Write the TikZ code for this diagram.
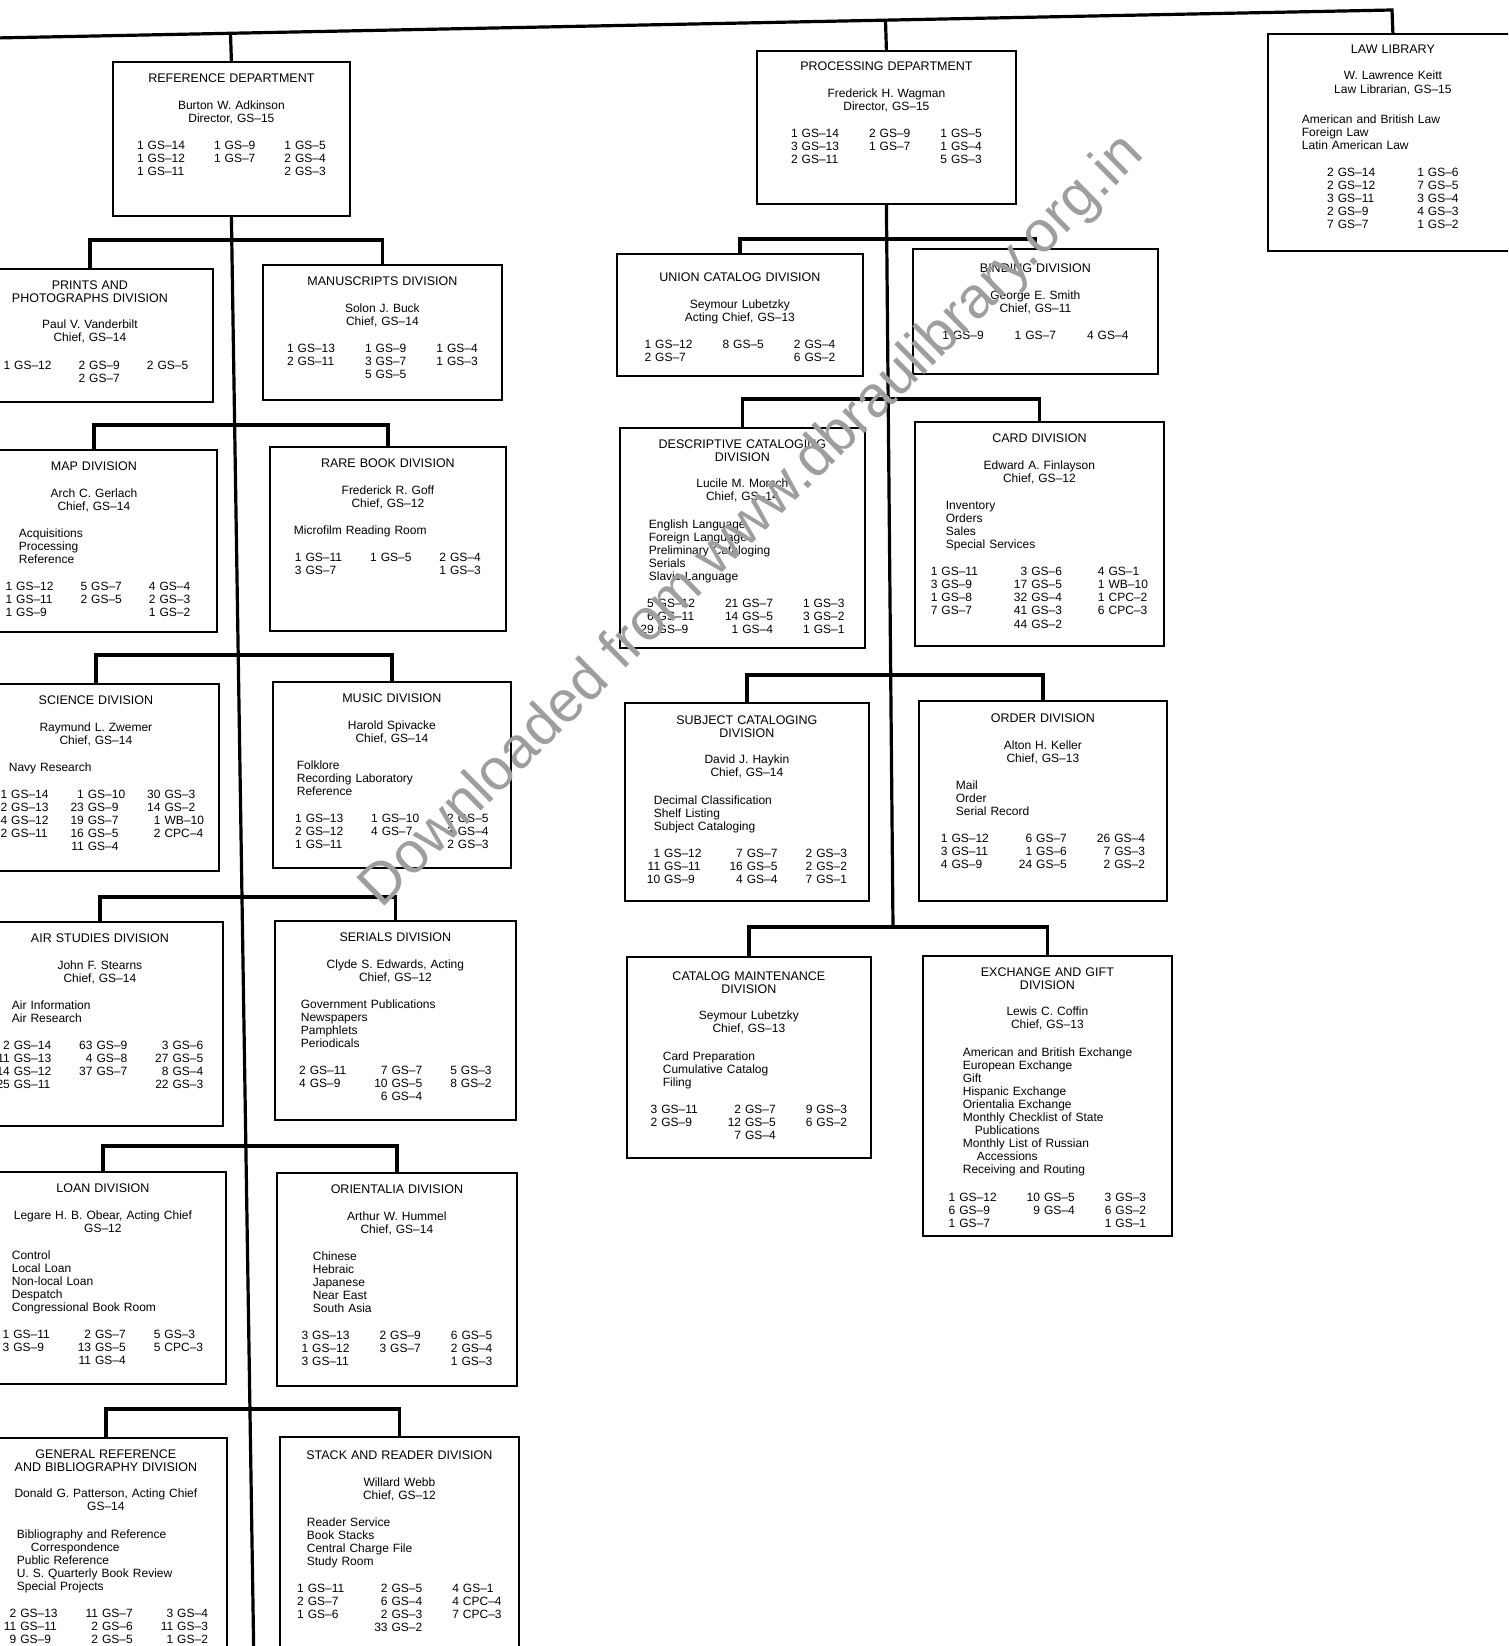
\documentclass[tikz,border=0pt]{standalone}
\usepackage{fontspec}
\setmainfont{Liberation Sans}
\usetikzlibrary{calc}
\newcommand\bfnt{\fontsize{12}{13.1}\selectfont}
\newcommand\tfnt{\fontsize{12.5}{12.8}\selectfont}
\newcommand\oTitle[1]{{\centering\tfnt #1\par}\vspace{13pt}}
\newcommand\oWho[1]{{\centering #1\par}\vspace{14pt}}
\newcommand\oList[2]{{\leftskip=#1pt\relax #2\par}\vspace{14pt}}
\newcommand\oGrades[3][0]{{\centering\hspace*{#1pt}\begin{tabular}[t]{@{}r@{\ }l@{\hspace{#2pt}}r@{\ }l@{\hspace{#2pt}}r@{\ }l@{}}#3\end{tabular}\par}}
\newcommand\oGradesTwo[2]{{\centering\begin{tabular}[t]{@{}r@{\ }l@{\hspace{#1pt}}r@{\ }l@{}}#2\end{tabular}\par}}
\newcommand\oBox[7]{%
  \node[orgbox, minimum width=#4pt, minimum height=#5pt, anchor=north west] (#1) at (#2,#3) {};
  \node[anchor=north, inner sep=0pt, text width=#4pt, align=left, font=\bfnt] (#1t) at ([yshift=-#6pt]#1.north) {#7};
}
\tikzset{
  orgbox/.style={draw=black, line width=1.8pt, inner sep=0pt},
  conn/.style={draw=black, line width=3.2pt}
}
\begin{document}
\begin{tikzpicture}[x=1pt,y=-1pt]
\useasboundingbox (0,0) rectangle (1508,1646);
\clip (0,0) rectangle (1508,1646);
\fill[white] (0,0) rectangle (1508,1646);

% ---------- boxes ----------
\oBox{ref}{112}{61}{237}{154}{13}{\oTitle{REFERENCE DEPARTMENT}\oWho{Burton W. Adkinson\\Director, GS–15}\oGrades{29}{1&GS–14&1&GS–9&1&GS–5\\1&GS–12&1&GS–7&2&GS–4\\1&GS–11&&&2&GS–3}}

\oBox{prints}{-34}{268}{246}{133}{13}{\oTitle{PRINTS AND\\PHOTOGRAPHS DIVISION}\oWho{Paul V. Vanderbilt\\Chief, GS–14}\oGrades[12]{27}{1&GS–12&2&GS–9&2&GS–5\\&&2&GS–7&&}}

\oBox{manu}{262}{264}{239}{135}{13}{\oTitle{MANUSCRIPTS DIVISION}\oWho{Solon J. Buck\\Chief, GS–14}\oGrades{30}{1&GS–13&1&GS–9&1&GS–4\\2&GS–11&3&GS–7&1&GS–3\\&&5&GS–5&&}}

\oBox{map}{-30}{449}{246}{182}{13}{\oTitle{MAP DIVISION}\oWho{Arch C. Gerlach\\Chief, GS–14}\oList{48}{Acquisitions\\Processing\\Reference}\oGrades[8]{27}{1&GS–12&5&GS–7&4&GS–4\\1&GS–11&2&GS–5&2&GS–3\\1&GS–9&&&1&GS–2}}

\oBox{rare}{269}{446}{236}{184}{13}{\oTitle{RARE BOOK DIVISION}\oWho{Frederick R. Goff\\Chief, GS–12}\oList{24}{Microfilm Reading Room}\oGrades{28}{1&GS–11&1&GS–5&2&GS–4\\3&GS–7&&&1&GS–3}}

\oBox{sci}{-28}{683}{246}{187}{13}{\oTitle{SCIENCE DIVISION}\oWho{Raymund L. Zwemer\\Chief, GS–14}\oList{36}{Navy Research}\oGrades[6]{22}{1&GS–14&1&GS–10&30&GS–3\\2&GS–13&23&GS–9&14&GS–2\\4&GS–12&19&GS–7&1&WB–10\\12&GS–11&16&GS–5&2&CPC–4\\&&11&GS–4&&}}

\oBox{music}{272}{681}{238}{186}{13}{\oTitle{MUSIC DIVISION}\oWho{Harold Spivacke\\Chief, GS–14}\oList{24}{Folklore\\Recording Laboratory\\Reference}\oGrades{28}{1&GS–13&1&GS–10&2&GS–5\\2&GS–12&4&GS–7&3&GS–4\\1&GS–11&&&2&GS–3}}

\oBox{air}{-24}{921}{246}{204}{13}{\oTitle{AIR STUDIES DIVISION}\oWho{John F. Stearns\\Chief, GS–14}\oList{35}{Air Information\\Air Research}\oGrades{28}{2&GS–14&63&GS–9&3&GS–6\\11&GS–13&4&GS–8&27&GS–5\\14&GS–12&37&GS–7&8&GS–4\\25&GS–11&&&22&GS–3}}

\oBox{serials}{274}{920}{241}{199}{13}{\oTitle{SERIALS DIVISION}\oWho{Clyde S. Edwards, Acting\\Chief, GS–12}\oList{26}{Government Publications\\Newspapers\\Pamphlets\\Periodicals}\oGrades{28}{2&GS–11&7&GS–7&5&GS–3\\4&GS–9&10&GS–5&8&GS–2\\&&6&GS–4&&}}

\oBox{loan}{-21}{1171}{246}{212}{13}{\oTitle{LOAN DIVISION}\oWho{Legare H. B. Obear, Acting Chief\\GS–12}\oList{32}{Control\\Local Loan\\Non-local Loan\\Despatch\\Congressional Book Room}\oGrades{28}{1&GS–11&2&GS–7&5&GS–3\\3&GS–9&13&GS–5&5&CPC–3\\&&11&GS–4&&}}

\oBox{orient}{276}{1172}{240}{213}{13}{\oTitle{ORIENTALIA DIVISION}\oWho{Arthur W. Hummel\\Chief, GS–14}\oList{36}{Chinese\\Hebraic\\Japanese\\Near East\\South Asia}\oGrades{30}{3&GS–13&2&GS–9&6&GS–5\\1&GS–12&3&GS–7&2&GS–4\\3&GS–11&&&1&GS–3}}

\oBox{genref}{-16}{1437}{242}{300}{13}{\oTitle{GENERAL REFERENCE\\AND BIBLIOGRAPHY DIVISION}\oWho{Donald G. Patterson, Acting Chief\\GS–14}\oList{32}{Bibliography and Reference\\\hspace*{14pt}Correspondence\\Public Reference\\U. S. Quarterly Book Review\\Special Projects}\oGrades{28}{2&GS–13&11&GS–7&3&GS–4\\11&GS–11&2&GS–6&11&GS–3\\9&GS–9&2&GS–5&1&GS–2}}

\oBox{stack}{279}{1436}{239}{300}{15}{\oTitle{STACK AND READER DIVISION}\oWho{Willard Webb\\Chief, GS–12}\oList{27}{Reader Service\\Book Stacks\\Central Charge File\\Study Room}\oGrades{30}{1&GS–11&2&GS–5&4&GS–1\\2&GS–7&6&GS–4&4&CPC–4\\1&GS–6&2&GS–3&7&CPC–3\\&&33&GS–2&&}}

\oBox{proc}{756}{50}{259}{153}{12}{\oTitle{PROCESSING DEPARTMENT}\oWho{Frederick H. Wagman\\Director, GS–15}\oGrades{30}{1&GS–14&2&GS–9&1&GS–5\\3&GS–13&1&GS–7&1&GS–4\\2&GS–11&&&5&GS–3}}

\oBox{union}{616}{253}{246}{122}{20}{\oTitle{UNION CATALOG DIVISION}\oWho{Seymour Lubetzky\\Acting Chief, GS–13}\oGrades{30}{1&GS–12&8&GS–5&2&GS–4\\2&GS–7&&&6&GS–2}}

\oBox{binding}{912}{248}{245}{125}{16}{\oTitle{BINDING DIVISION}\oWho{George E. Smith\\Chief, GS–11}\oGrades{31}{1&GS–9&1&GS–7&4&GS–4}}

\oBox{desc}{619}{427}{245}{220}{13}{\oTitle{DESCRIPTIVE CATALOGING\\DIVISION}\oWho{Lucile M. Morsch\\Chief, GS–14}\oList{29}{English Language\\Foreign Language\\Preliminary Cataloging\\Serials\\Slavic Language}\oGrades{30}{5&GS–12&21&GS–7&1&GS–3\\6&GS–11&14&GS–5&3&GS–2\\29&GS–9&1&GS–4&1&GS–1}}

\oBox{card}{914}{421}{249}{224}{13}{\oTitle{CARD DIVISION}\oWho{Edward A. Finlayson\\Chief, GS–12}\oList{31}{Inventory\\Orders\\Sales\\Special Services}\oGrades{36}{1&GS–11&3&GS–6&4&GS–1\\3&GS–9&17&GS–5&1&WB–10\\1&GS–8&32&GS–4&1&CPC–2\\7&GS–7&41&GS–3&6&CPC–3\\&&44&GS–2&&}}

\oBox{subj}{624}{702}{244}{198}{14}{\oTitle{SUBJECT CATALOGING\\DIVISION}\oWho{David J. Haykin\\Chief, GS–14}\oList{29}{Decimal Classification\\Shelf Listing\\Subject Cataloging}\oGrades{28}{1&GS–12&7&GS–7&2&GS–3\\11&GS–11&16&GS–5&2&GS–2\\10&GS–9&4&GS–4&7&GS–1}}

\oBox{order}{918}{700}{248}{200}{14}{\oTitle{ORDER DIVISION}\oWho{Alton H. Keller\\Chief, GS–13}\oList{37}{Mail\\Order\\Serial Record}\oGrades{30}{1&GS–12&6&GS–7&26&GS–4\\3&GS–11&1&GS–6&7&GS–3\\4&GS–9&24&GS–5&2&GS–2}}

\oBox{catm}{626}{956}{244}{201}{16}{\oTitle{CATALOG MAINTENANCE\\DIVISION}\oWho{Seymour Lubetzky\\Chief, GS–13}\oList{36}{Card Preparation\\Cumulative Catalog\\Filing}\oGrades{30}{3&GS–11&2&GS–7&9&GS–3\\2&GS–9&12&GS–5&6&GS–2\\&&7&GS–4&&}}

\oBox{exch}{922}{955}{249}{280}{13}{\oTitle{EXCHANGE AND GIFT\\DIVISION}\oWho{Lewis C. Coffin\\Chief, GS–13}\oList{40}{American and British Exchange\\European Exchange\\Gift\\Hispanic Exchange\\Orientalia Exchange\\Monthly Checklist of State\\\hspace*{12pt}Publications\\Monthly List of Russian\\\hspace*{14pt}Accessions\\Receiving and Routing}\oGrades{30}{1&GS–12&10&GS–5&3&GS–3\\6&GS–9&9&GS–4&6&GS–2\\1&GS–7&&&1&GS–1}}

\oBox{law}{1267}{33}{250}{217}{12}{\oTitle{LAW LIBRARY}\oWho{W. Lawrence Keitt\\Law Librarian, GS–15}\vspace{3pt}\oList{34}{American and British Law\\Foreign Law\\Latin American Law}\oGradesTwo{42}{2&GS–14&1&GS–6\\2&GS–12&7&GS–5\\3&GS–11&3&GS–4\\2&GS–9&4&GS–3\\7&GS–7&1&GS–2}}

% ---------- connectors ----------
\coordinate (tl) at (-5,38);
\coordinate (tr) at (1392,10);
\coordinate (refj) at (230.5,33.4);
\coordinate (procj) at (885.5,20.2);
\draw[conn] (tl) -- (tr) -- (law.north);
\draw[conn] (refj) -- (ref.north);
\draw[conn] (procj) -- (proc.north);

\coordinate (refend) at (254,1670);
\draw[conn] (ref.south) -- (refend);
\coordinate (r1) at (230.9,240);
\coordinate (r2) at (233.9,425);
\coordinate (r3) at (237.7,655);
\coordinate (r4) at (241.6,897);
\coordinate (r5) at (245.6,1146);
\coordinate (r6) at (249.9,1409);
\draw[conn] (prints.north) |- (r1) -| (manu.north);
\draw[conn] (map.north) |- (r2) -| (rare.north);
\draw[conn] (sci.north) |- (r3) -| (music.north);
\draw[conn] (air.north) |- (r4) -| (serials.north);
\draw[conn] (loan.north) |- (r5) -| (orient.north);
\draw[conn] (genref.north) |- (r6) -| (stack.north);

\coordinate (p1) at (885.9,239);
\coordinate (p2) at (887.5,399);
\coordinate (p3) at (890.4,675);
\coordinate (p4) at (893,927);
\draw[conn] (proc.south) -- (p4);
\draw[conn] (union.north) |- (p1) -| (binding.north);
\draw[conn] (desc.north) |- (p2) -| (card.north);
\draw[conn] (subj.north) |- (p3) -| (order.north);
\draw[conn] (catm.north) |- (p4) -| (exch.north);

% ---------- watermark ----------
\node[rotate=44.6, text=black!38, font=\fontsize{58}{60}\selectfont, inner sep=0pt] (wm) at (753,522) {Downloaded from www.dbraulibrary.org.in};
\end{tikzpicture}
\end{document}
